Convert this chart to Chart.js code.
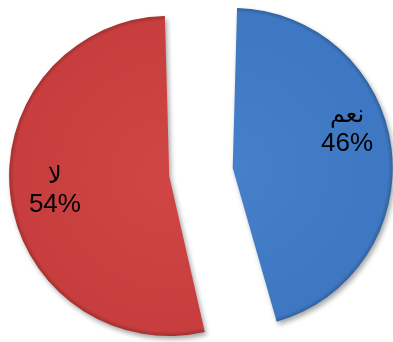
<!DOCTYPE html>
<html>
<head>
<meta charset="utf-8">
<script src="https://cdn.jsdelivr.net/npm/chart.js@4/dist/chart.umd.min.js"></script>
<style>
  html, body { margin: 0; padding: 0; background: #ffffff; }
  #wrap { width: 393px; height: 342px; position: relative; }
</style>
</head>
<body>
<div id="wrap"><canvas id="pie"></canvas></div>
<script>
// Chart data
const categories = ["نعم", "لا"];
const percents = [46, 54];
const sliceColors = [
  ["#4780ca", "#3f78c2", "#31619f"],
  ["#d04644", "#c83e3e", "#a33030"]
];
// how far each slice is pulled out (Chart.js arc offset)
// note: chart.js also grows the radius of a slice by offset/4 * (1 - sin(angle))
const sliceOffsets = [146, 110];
// vertical nudge of each label
const labelNudge = [-25, -1];

const RADIUS = 132.6;
const FULL_R = 160;

function sliceFill(context) {
  const chart = context.chart;
  const area = chart.chartArea;
  const c = sliceColors[context.dataIndex];
  if (!area) return c[1];
  const cx = (area.left + area.right) / 2;
  const cy = (area.top + area.bottom) / 2;
  const g = chart.ctx.createRadialGradient(cx, cy, 0, cx, cy, FULL_R);
  g.addColorStop(0, c[0]);
  g.addColorStop(0.9, c[1]);
  g.addColorStop(0.97, c[1]);
  g.addColorStop(1, c[2]);
  return g;
}

// soft drop shadow under the slices
const shadowPlugin = {
  id: "shadow",
  beforeDatasetsDraw(chart) {
    const ctx = chart.ctx;
    ctx.save();
    ctx.shadowColor = "rgba(0,0,0,0.35)";
    ctx.shadowBlur = 5;
    ctx.shadowOffsetX = 2;
    ctx.shadowOffsetY = 3;
  },
  afterDatasetsDraw(chart) {
    chart.ctx.restore();
  }
};

// category name + percentage inside each slice
const labelPlugin = {
  id: "sliceLabels",
  afterDraw(chart) {
    const ctx = chart.ctx;
    const meta = chart.getDatasetMeta(0);
    ctx.save();
    ctx.fillStyle = "#000000";
    ctx.textAlign = "center";
    ctx.textBaseline = "middle";
    meta.data.forEach(function (arc, i) {
      const half = (arc.startAngle + arc.endAngle) / 2;
      const shift = sliceOffsets[i] / 4;
      const r = FULL_R * 0.72 + shift;
      const x = arc.x + Math.cos(half) * r;
      const y = arc.y + Math.sin(half) * r + labelNudge[i];
      ctx.font = "24px 'Liberation Sans', 'DejaVu Sans', Arial, sans-serif";
      ctx.fillText(categories[i], x, y - 13);
      ctx.font = "26px 'Liberation Sans', Arial, sans-serif";
      ctx.fillText(percents[i] + "%", x, y + 15);
    });
    ctx.restore();
  }
};

new Chart(document.getElementById("pie"), {
  type: "pie",
  data: {
    labels: categories,
    datasets: [{
      data: percents,
      backgroundColor: sliceFill,
      borderWidth: 0,
      offset: sliceOffsets,
      radius: RADIUS
    }]
  },
  options: {
    responsive: true,
    maintainAspectRatio: false,
    animation: false,
    layout: { padding: { top: 3 } },
    plugins: {
      legend: { display: false },
      tooltip: { enabled: false }
    }
  },
  plugins: [shadowPlugin, labelPlugin]
});
</script>
</body>
</html>
